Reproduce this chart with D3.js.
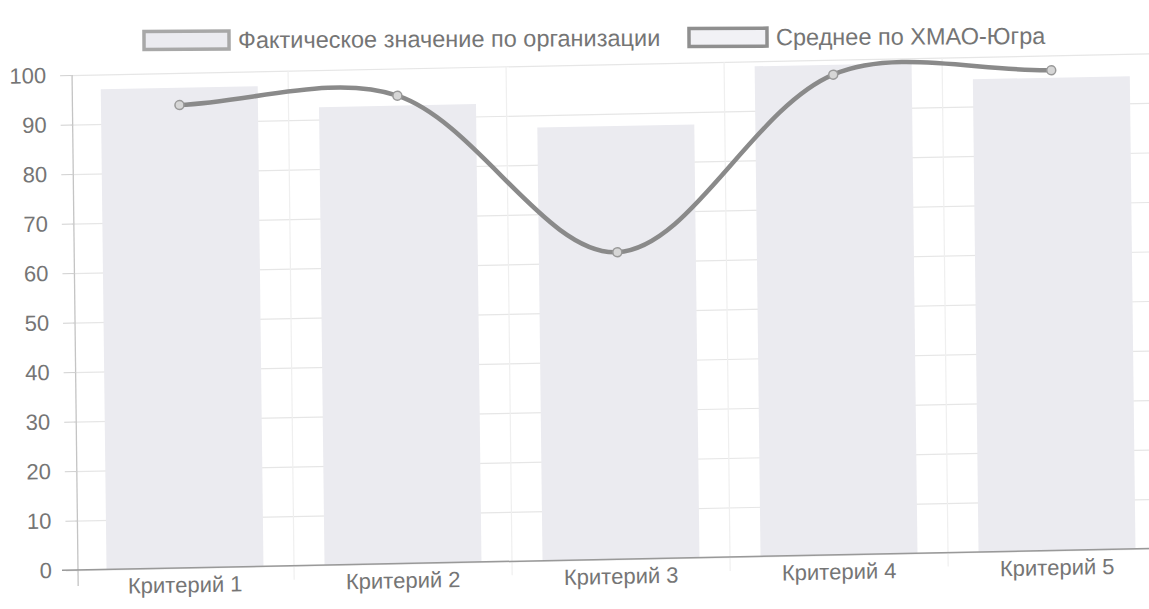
<!DOCTYPE html>
<html><head><meta charset="utf-8">
<script src="https://cdn.jsdelivr.net/npm/d3@7"></script>
<style>
html,body{margin:0;padding:0;background:#fff;}
svg{display:block;font-family:"Liberation Sans",Arial,sans-serif;}
</style></head>
<body>
<svg id="chart" width="1149" height="609"></svg>
<script>
// ---- data ----
const categories = ["Критерий 1", "Критерий 2", "Критерий 3", "Критерий 4", "Критерий 5"];
const factValues = [97, 92.5, 87.5, 99, 95.5];   // Фактическое значение по организации (bars)
const avgValues  = [93.5, 94.5, 62, 97, 97];     // Среднее по ХМАО-Югра (line)
const yTicks     = [0, 10, 20, 30, 40, 50, 60, 70, 80, 90, 100];
const legendLabels = ["Фактическое значение по организации", "Среднее по ХМАО-Югра"];

// ---- layout ----
const svg = d3.select("#chart");
const plotL = 76, plotR = 1166, plotT = 75, plotB = 570;
const tb = -0.02, tc = 0.012; // slight tilt of the scanned page
const g = svg.append("g")
  .attr("transform", `matrix(1,${tb},${tc},1,${-plotB*tc},${-78*tb})`);

const x = d3.scaleBand().domain(categories).range([plotL, plotR]);
const y = d3.scaleLinear().domain([0, 100]).range([plotB, plotT]);
const bw = x.bandwidth();

const textColor = "#757575";
const gridColor = "#e6e6e6";
const tickFont = 22;

// horizontal grid
g.append("g").attr("class", "ygrid")
  .attr("transform", `translate(${plotL},0)`)
  .call(d3.axisLeft(y).tickValues(yTicks).tickSize(-(plotR - plotL)).tickFormat(""))
  .call(s => s.select(".domain").remove())
  .call(s => s.selectAll("line").attr("stroke", gridColor).attr("stroke-width", 1.2));

// vertical grid at category boundaries
g.append("g").attr("class", "xgrid")
  .selectAll("line").data(categories.slice(1)).join("line")
  .attr("x1", d => x(d)).attr("x2", d => x(d))
  .attr("y1", plotT).attr("y2", plotB + 14)
  .attr("stroke", "#efefef").attr("stroke-width", 1.2);

// bars
g.append("g").selectAll("rect").data(categories).join("rect")
  .attr("x", d => x(d) + bw * 0.14)
  .attr("width", bw * 0.72)
  .attr("y", (d, i) => y(factValues[i]))
  .attr("height", (d, i) => y(0) - y(factValues[i]))
  .attr("fill", "#ebebf0");

// y axis
g.append("g").attr("class", "yaxis")
  .attr("transform", `translate(${plotL + 2},0)`)
  .call(d3.axisLeft(y).tickValues(yTicks).tickSize(12).tickPadding(14))
  .call(s => s.select(".domain").attr("stroke", "#c4c4c4").attr("stroke-width", 1.3)
      .attr("d", `M0,${plotT}V${plotB + 16}`))
  .call(s => s.selectAll(".tick line").attr("stroke", "#d0d0d0"))
  .call(s => s.selectAll("text").attr("fill", textColor).attr("font-size", tickFont)
      .attr("font-family", "'Liberation Sans',Arial,sans-serif"));

// x axis
g.append("g").attr("class", "xaxis")
  .attr("transform", `translate(0,${plotB})`)
  .call(d3.axisBottom(x).tickSize(0).tickPadding(9))
  .call(s => s.select(".domain").attr("stroke", "#999").attr("stroke-width", 1.5)
      .attr("d", `M${plotL - 14},0H${plotR}`))
  .call(s => s.selectAll("text").attr("fill", textColor).attr("font-size", tickFont)
      .attr("font-family", "'Liberation Sans',Arial,sans-serif"));

// line (Chart.js-like spline)
const pts = categories.map((c, i) => [x(c) + bw / 2, y(avgValues[i])]);
function splinePath(p, t) {
  const cps = p.map((cur, i) => {
    const prev = p[i - 1] || cur, next = p[i + 1] || cur;
    const d01 = Math.hypot(cur[0] - prev[0], cur[1] - prev[1]);
    const d12 = Math.hypot(next[0] - cur[0], next[1] - cur[1]);
    let s01 = d01 / (d01 + d12), s12 = d12 / (d01 + d12);
    if (!isFinite(s01)) s01 = 0; if (!isFinite(s12)) s12 = 0;
    const fa = t * s01, fb = t * s12;
    return {
      c1: [cur[0] - fa * (next[0] - prev[0]), cur[1] - fa * (next[1] - prev[1])],
      c2: [cur[0] + fb * (next[0] - prev[0]), cur[1] + fb * (next[1] - prev[1])]
    };
  });
  const path = d3.path();
  path.moveTo(p[0][0], p[0][1]);
  for (let i = 1; i < p.length; i++) {
    const a = cps[i - 1].c2, b = cps[i].c1;
    path.bezierCurveTo(a[0], a[1], b[0], b[1], p[i][0], p[i][1]);
  }
  return path.toString();
}
g.append("path").attr("d", splinePath(pts, 0.33))
  .attr("fill", "none").attr("stroke", "#8a8a8a").attr("stroke-width", 4.5)
  .attr("stroke-linecap", "round");
g.append("g").selectAll("circle").data(pts).join("circle")
  .attr("cx", d => d[0]).attr("cy", d => d[1]).attr("r", 4.5)
  .attr("fill", "#d6d6d6").attr("stroke", "#999").attr("stroke-width", 1.5);

// legend
const lg = svg.append("g").attr("transform", "rotate(-0.3,600,37)");
const legendItems = [
  { label: legendLabels[0], bx: 144, by: 29, w: 85, h: 18, fill: "#ebebf0", stroke: "#a8a8a8" },
  { label: legendLabels[1], bx: 689, by: 29, w: 78, h: 18, fill: "#f1f1f5", stroke: "#8f8f8f" }
];
legendItems.forEach(it => {
  lg.append("rect").attr("x", it.bx).attr("y", it.by).attr("width", it.w).attr("height", it.h)
    .attr("fill", it.fill).attr("stroke", it.stroke).attr("stroke-width", 3.5);
  lg.append("text").attr("x", it.bx + it.w + 9).attr("y", it.by + it.h / 2).attr("dy", "0.35em")
    .attr("fill", textColor).attr("font-size", 23.5).text(it.label);
});
</script>
</body></html>
